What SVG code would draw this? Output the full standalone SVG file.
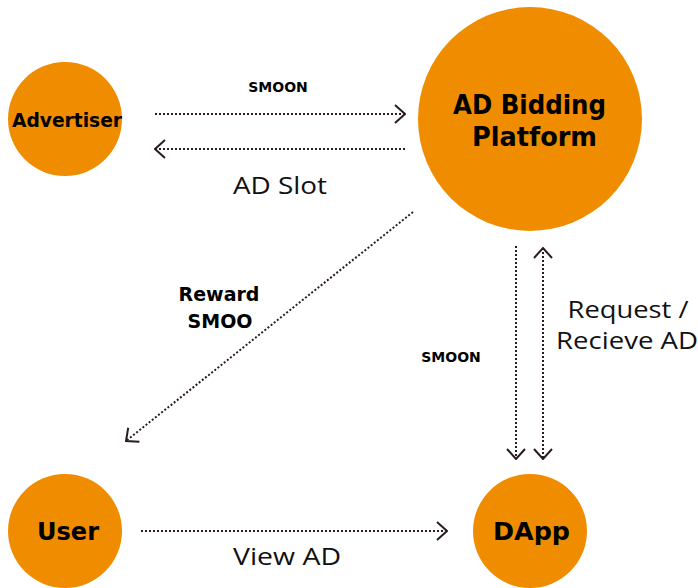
<svg xmlns="http://www.w3.org/2000/svg" width="698" height="588" viewBox="0 0 698 588">
<defs>
<style>
.node{fill:#F08C00}
.bl{font-family:"DejaVu Sans",Verdana,sans-serif;font-weight:bold;fill:#000;text-anchor:middle}
.lb{font-family:"Open Sans","Noto Sans",sans-serif;fill:#111;text-anchor:middle}
.ln{stroke:#2b1d1d;stroke-width:2;stroke-dasharray:2 2;fill:none}
</style>
<marker id="ah" viewBox="0 0 12 20" refX="11" refY="10" markerWidth="12" markerHeight="20" markerUnits="userSpaceOnUse" orient="auto-start-reverse">
<path d="M1,1 L11,10 L1,19" stroke="#2b1d1d" stroke-width="2" fill="none"/>
</marker>
</defs>
<rect width="698" height="588" fill="#fff"/>
<g id="connectors">
<line class="ln" x1="155" y1="114" x2="405" y2="114" marker-end="url(#ah)"/>
<line class="ln" x1="405" y1="149" x2="155" y2="149" marker-end="url(#ah)"/>
<line class="ln" x1="413" y1="212" x2="126" y2="441" marker-end="url(#ah)"/>
<line class="ln" x1="516" y1="246" x2="516" y2="459" marker-end="url(#ah)"/>
<line class="ln" x1="543" y1="248" x2="543" y2="459" marker-start="url(#ah)" marker-end="url(#ah)"/>
<line class="ln" x1="141" y1="531" x2="447" y2="531" marker-end="url(#ah)"/>
<text class="bl" x="278" y="92" font-size="14">SMOON</text>
<text class="lb" x="280" y="194" font-size="24" textLength="94" lengthAdjust="spacingAndGlyphs">AD Slot</text>
<text class="bl" x="219" y="301" font-size="19">Reward</text>
<text class="bl" x="220" y="328" font-size="19">SMOO</text>
<text class="bl" x="451" y="362" font-size="14">SMOON</text>
<text class="lb" x="628" y="318" font-size="24" textLength="121" lengthAdjust="spacingAndGlyphs">Request /</text>
<text class="lb" x="627" y="349" font-size="24" textLength="142" lengthAdjust="spacingAndGlyphs">Recieve AD</text>
<text class="lb" x="287" y="565" font-size="24" textLength="108" lengthAdjust="spacingAndGlyphs">View AD</text>
</g>
<g id="advertiser">
<circle class="node" cx="65" cy="119" r="57"/>
<text class="bl" x="67" y="127" font-size="19" textLength="110" lengthAdjust="spacingAndGlyphs">Advertiser</text>
</g>
<g id="platform">
<circle class="node" cx="530" cy="119" r="112"/>
<text class="bl" x="529.5" y="114" font-size="26" textLength="153" lengthAdjust="spacingAndGlyphs">AD Bidding</text>
<text class="bl" x="534.5" y="146" font-size="26" textLength="125" lengthAdjust="spacingAndGlyphs">Platform</text>
</g>
<g id="user">
<circle class="node" cx="65" cy="531" r="57"/>
<text class="bl" x="68" y="540" font-size="25" textLength="62" lengthAdjust="spacingAndGlyphs">User</text>
</g>
<g id="dapp">
<circle class="node" cx="530" cy="531" r="57"/>
<text class="bl" x="531.5" y="540" font-size="25" textLength="77" lengthAdjust="spacingAndGlyphs">DApp</text>
</g>
</svg>
